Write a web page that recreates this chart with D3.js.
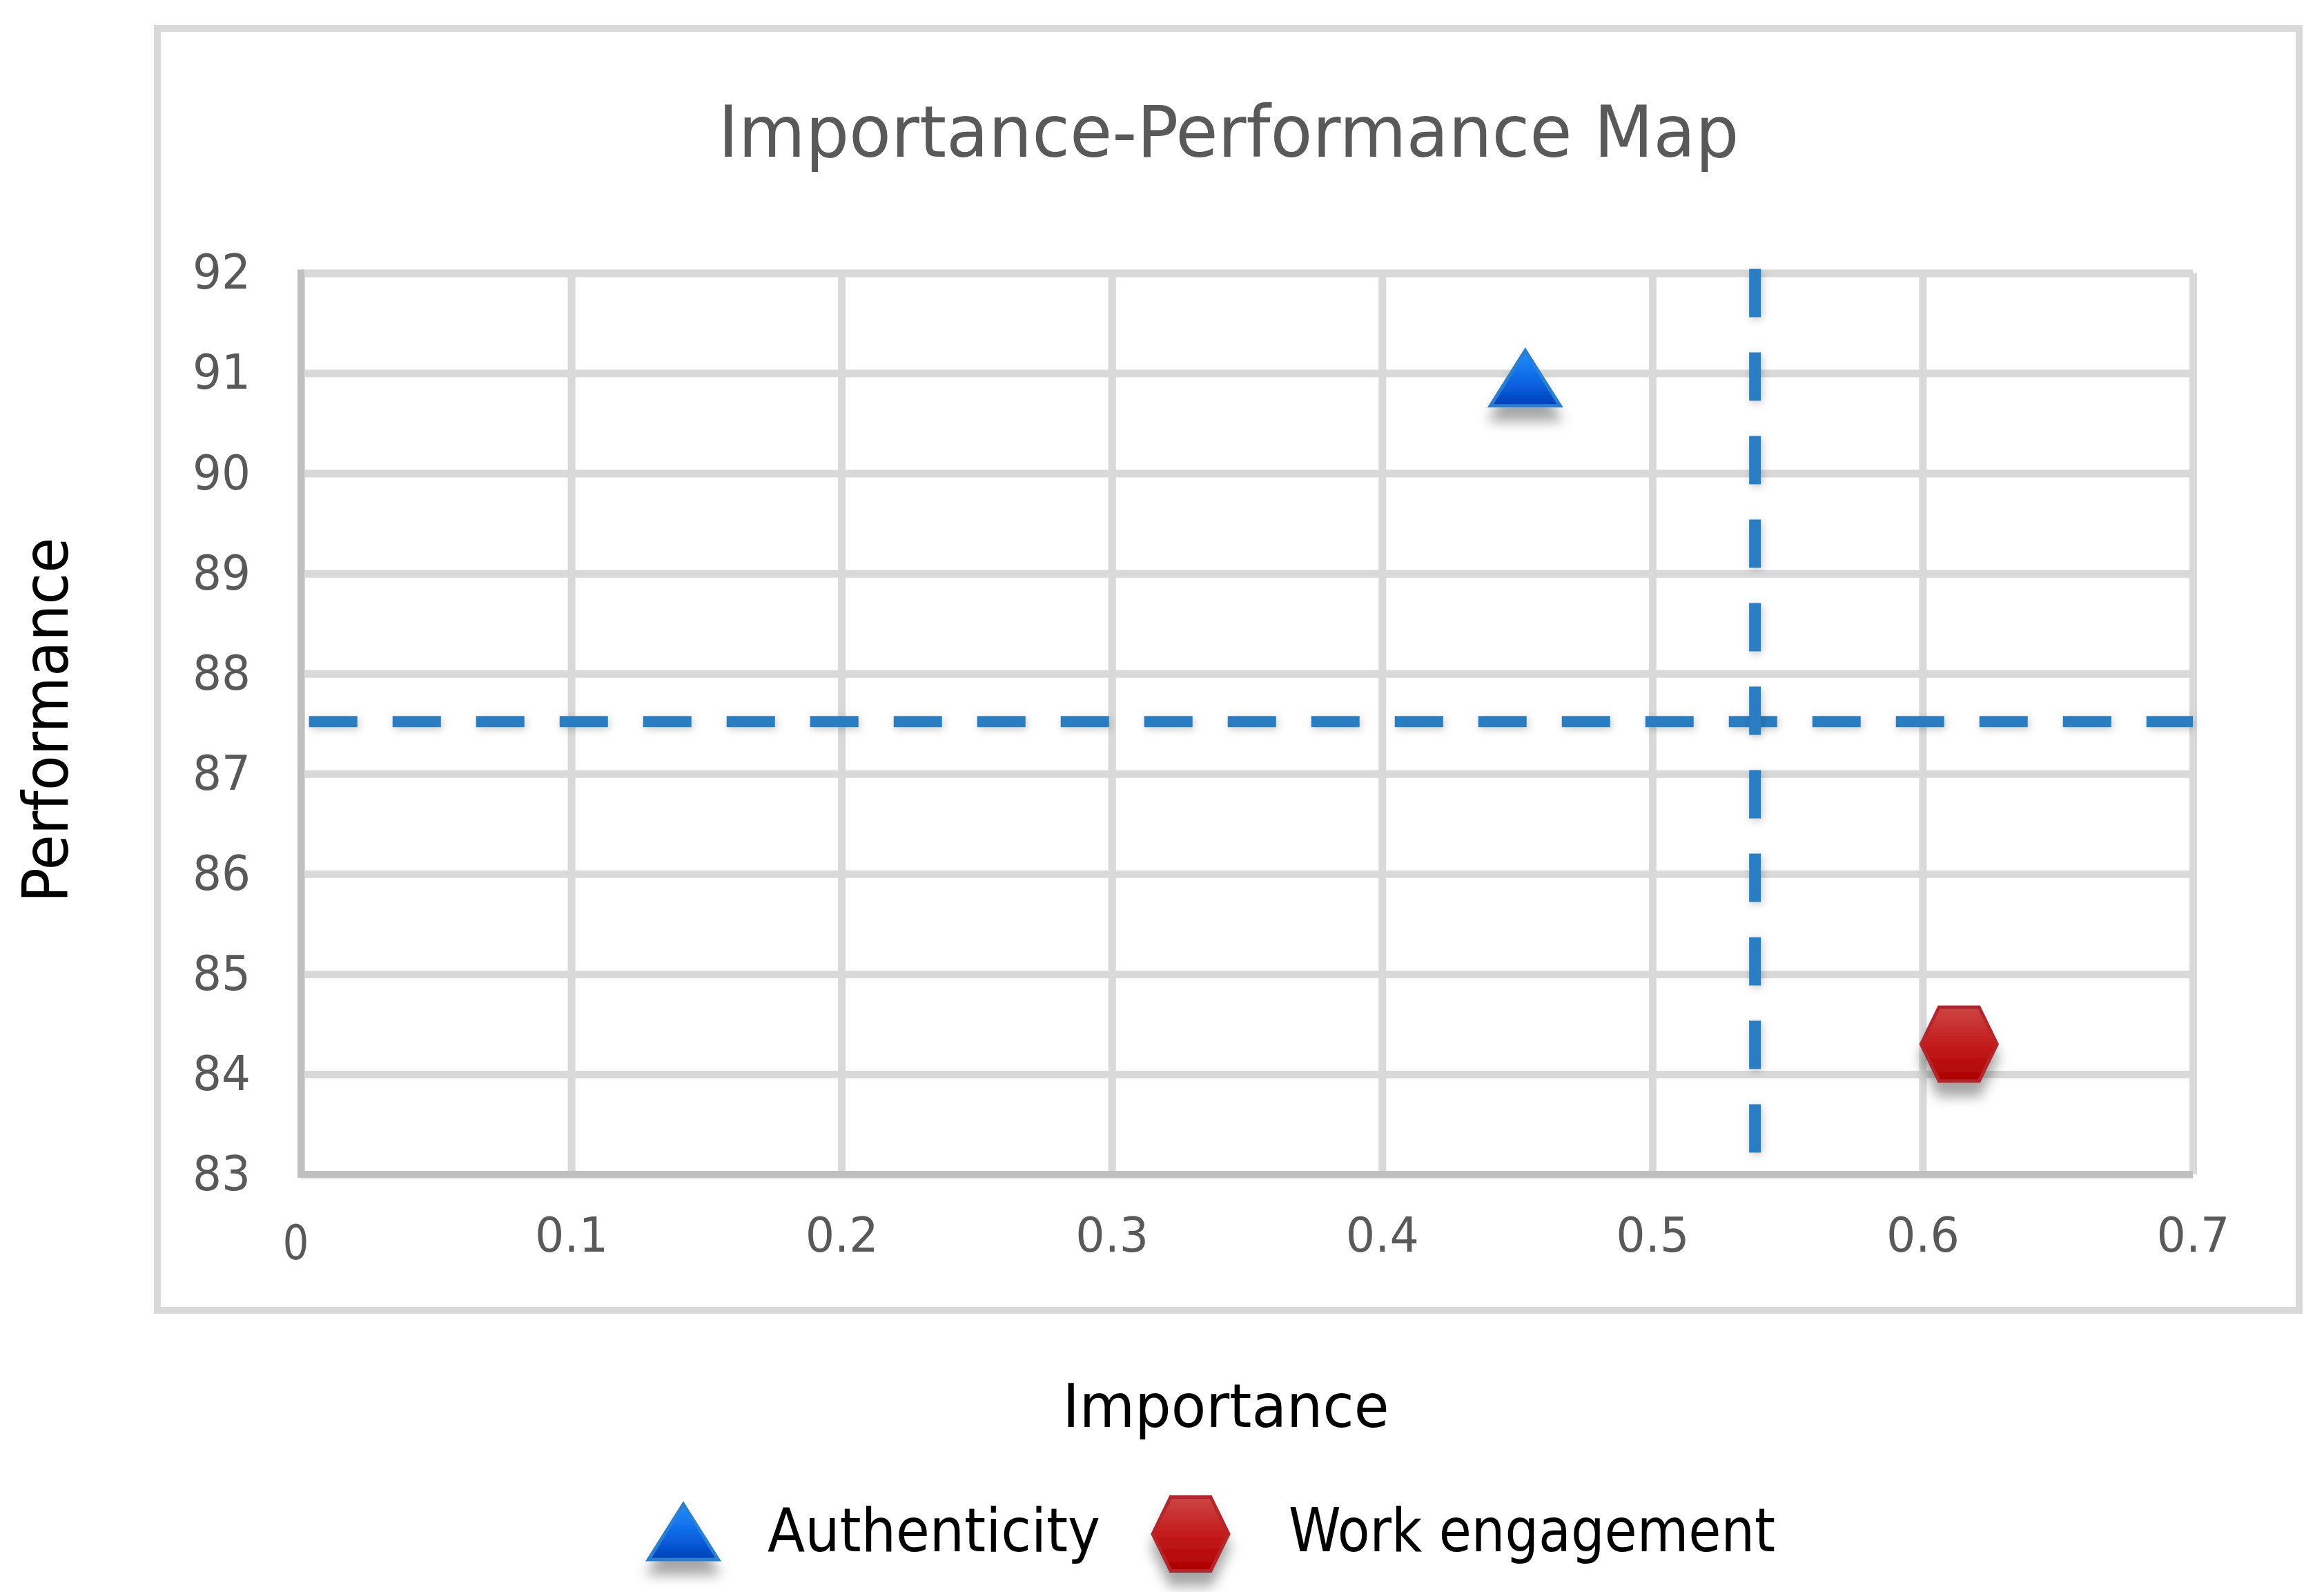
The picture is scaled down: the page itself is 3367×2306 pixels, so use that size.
<!DOCTYPE html>
<html>
<head>
<meta charset="utf-8">
<script src="https://cdn.jsdelivr.net/npm/d3@7"></script>
<style>
  html, body { margin: 0; padding: 0; background: #ffffff; }
  svg { display: block; }
  text { font-family: "Liberation Sans Narrow", "DejaVu Sans Condensed", "Liberation Sans", sans-serif; }
</style>
</head>
<body>
<svg id="chart" width="3367" height="2306"></svg>
<script>
// ---------------- data ----------------
const seriesNames   = ["Authenticity", "Work engagement"];
const importance    = [0.453, 0.6135];
const performance   = [90.95, 84.30];
const markerShapes  = ["triangle", "hexagon"];
const xTickValues   = [0, 0.1, 0.2, 0.3, 0.4, 0.5, 0.6, 0.7];
const yTickValues   = [83, 84, 85, 86, 87, 88, 89, 90, 91, 92];
const refImportance  = 0.538;   // vertical dashed line
const refPerformance = 87.52;   // horizontal dashed line
const hLineImportance = [0.003, 0.7];
const vLinePerformance = [92, 83];
const titleText = "Importance-Performance Map";
const xTitle = "Importance";
const yTitle = "Performance";

// ---------------- layout ----------------
const W = 3367, H = 2306;
const plot = { left: 436, right: 3177, top: 395.5, bottom: 1701 };
const svg = d3.select("#chart");

const x = d3.scaleLinear().domain([0, 0.7]).range([plot.left, plot.right]);
const y = d3.scaleLinear().domain([83, 92]).range([plot.bottom, plot.top]);

const defs = svg.append("defs");
// gradients
const gTri = defs.append("linearGradient").attr("id", "gTri").attr("x1", 0).attr("y1", 0).attr("x2", 0).attr("y2", 1);
gTri.append("stop").attr("offset", "0%").attr("stop-color", "#1f8fff");
gTri.append("stop").attr("offset", "60%").attr("stop-color", "#0a62e0");
gTri.append("stop").attr("offset", "100%").attr("stop-color", "#0040b8");
const gHex = defs.append("linearGradient").attr("id", "gHex").attr("x1", 0).attr("y1", 0).attr("x2", 0).attr("y2", 1);
gHex.append("stop").attr("offset", "0%").attr("stop-color", "#cd4545");
gHex.append("stop").attr("offset", "50%").attr("stop-color", "#c41c1c");
gHex.append("stop").attr("offset", "100%").attr("stop-color", "#ad0000");
// shadows
const fShadow = defs.append("filter").attr("id", "shadow").attr("x", "-50%").attr("y", "-50%").attr("width", "200%").attr("height", "220%");
fShadow.append("feDropShadow").attr("dx", 0).attr("dy", 20).attr("stdDeviation", 9)
  .attr("flood-color", "#000").attr("flood-opacity", 0.35);
const fLine = defs.append("filter").attr("id", "lshadow").attr("filterUnits", "userSpaceOnUse")
  .attr("x", 0).attr("y", 0).attr("width", W).attr("height", H);
fLine.append("feDropShadow").attr("dx", 2).attr("dy", 3).attr("stdDeviation", 6)
  .attr("flood-color", "#000").attr("flood-opacity", 0.22);

// outer border
svg.append("rect").attr("x", 228).attr("y", 41).attr("width", 3331 - 228).attr("height", 1898 - 41)
  .attr("fill", "#ffffff").attr("stroke", "#d9d9d9").attr("stroke-width", 10);

// title
svg.append("text").attr("x", 1780).attr("y", 227).attr("text-anchor", "middle")
  .attr("font-size", 103).attr("fill", "#595959")
  .attr("textLength", 1479).attr("lengthAdjust", "spacingAndGlyphs")
  .text(titleText);

// gridlines (via axes)
const gridX = svg.append("g").attr("transform", `translate(0,${plot.bottom})`)
  .call(d3.axisBottom(x).tickValues(xTickValues).tickSize(-(plot.bottom - plot.top)).tickFormat(""));
gridX.select(".domain").remove();
gridX.selectAll("line").attr("stroke", "#d9d9d9").attr("stroke-width", 11);

const gridY = svg.append("g").attr("transform", `translate(${plot.left},0)`)
  .call(d3.axisLeft(y).tickValues(yTickValues).tickSize(-(plot.right - plot.left)).tickFormat(""));
gridY.select(".domain").remove();
gridY.selectAll("line").attr("stroke", "#d9d9d9").attr("stroke-width", 11);

// axis lines
svg.append("line").attr("x1", x(0)).attr("x2", x(0)).attr("y1", y(92) - 5).attr("y2", y(83) + 5)
  .attr("stroke", "#bfbfbf").attr("stroke-width", 10);
svg.append("line").attr("x1", x(0) - 5).attr("x2", x(0.7)).attr("y1", y(83)).attr("y2", y(83))
  .attr("stroke", "#bfbfbf").attr("stroke-width", 10);

// tick labels (via axes)
const yAxis = svg.append("g").attr("transform", `translate(${plot.left},0)`)
  .call(d3.axisLeft(y).tickValues(yTickValues).tickSize(0).tickPadding(73).tickFormat(d3.format("d")));
yAxis.select(".domain").remove();
yAxis.selectAll("text").attr("font-size", 70).attr("fill", "#595959")
  .attr("font-family", "Liberation Sans Narrow, DejaVu Sans Condensed, sans-serif")
  .attr("dy", "0.32em").attr("textLength", 84).attr("lengthAdjust", "spacingAndGlyphs");

const xAxis = svg.append("g").attr("transform", `translate(0,${plot.bottom})`)
  .call(d3.axisBottom(x).tickValues(xTickValues).tickSize(0).tickPadding(62)
    .tickFormat(d => d === 0 ? "0" : d3.format(".1f")(d)));
xAxis.select(".domain").remove();
xAxis.selectAll("text").attr("font-size", 70).attr("fill", "#595959")
  .attr("font-family", "Liberation Sans Narrow, DejaVu Sans Condensed, sans-serif")
  .each(function(d) {
    const t = d3.select(this);
    if (d === 0) {
      t.attr("dx", -8).attr("dy", "0.87em").attr("textLength", 38).attr("lengthAdjust", "spacingAndGlyphs");
    } else {
      t.attr("textLength", 106).attr("lengthAdjust", "spacingAndGlyphs");
    }
  });

// reference dashed lines
svg.append("line")
  .attr("x1", x(hLineImportance[0])).attr("x2", x(hLineImportance[1]))
  .attr("y1", y(refPerformance)).attr("y2", y(refPerformance))
  .attr("stroke", "#2a7dc1").attr("stroke-width", 16).attr("stroke-dasharray", "70,51")
  .attr("filter", "url(#lshadow)");
svg.append("line")
  .attr("x1", x(refImportance)).attr("x2", x(refImportance))
  .attr("y1", y(vLinePerformance[0]) - 6).attr("y2", y(vLinePerformance[1]))
  .attr("stroke", "#2a7dc1").attr("stroke-width", 17).attr("stroke-dasharray", "70,51")
  .attr("filter", "url(#lshadow)");

// marker paths
function markerPath(shape, cx, cy) {
  if (shape === "triangle") {
    const w = 101, h = 80;
    return `M${cx},${cy - h / 2} L${cx + w / 2},${cy + h / 2} L${cx - w / 2},${cy + h / 2} Z`;
  }
  const w = 110, h = 107, tw = 58;
  return `M${cx - tw / 2},${cy - h / 2} L${cx + tw / 2},${cy - h / 2} L${cx + w / 2},${cy} ` +
         `L${cx + tw / 2},${cy + h / 2} L${cx - tw / 2},${cy + h / 2} L${cx - w / 2},${cy} Z`;
}
const fills = { triangle: "url(#gTri)", hexagon: "url(#gHex)" };
const strokes = { triangle: "#2b7fd0", hexagon: "#b3282d" };

const pts = seriesNames.map((n, i) => ({ name: n, imp: importance[i], perf: performance[i], shape: markerShapes[i] }));
svg.append("g").selectAll("path").data(pts).join("path")
  .attr("d", d => markerPath(d.shape, x(d.imp), y(d.perf)))
  .attr("fill", d => fills[d.shape]).attr("stroke", d => strokes[d.shape]).attr("stroke-width", 5)
  .attr("filter", "url(#shadow)");

// axis titles
svg.append("text").attr("x", 1776).attr("y", 2067).attr("text-anchor", "middle")
  .attr("font-size", 87).attr("fill", "#000")
  .attr("textLength", 473).attr("lengthAdjust", "spacingAndGlyphs").text(xTitle);
svg.append("text").attr("transform", "translate(98,1043) rotate(-90)").attr("text-anchor", "middle")
  .attr("font-size", 90).attr("fill", "#000")
  .attr("textLength", 529).attr("lengthAdjust", "spacingAndGlyphs").text(yTitle);

// legend
const legendItems = [
  { shape: "triangle", cx: 990, cy: 2219, tx: 1112, tl: 482 },
  { shape: "hexagon", cx: 1725, cy: 2222, tx: 1867, tl: 705 }
];
const lg = svg.append("g");
legendItems.forEach((it, i) => {
  lg.append("path").attr("d", markerPath(it.shape, it.cx, it.cy))
    .attr("fill", fills[it.shape]).attr("stroke", strokes[it.shape]).attr("stroke-width", 5)
    .attr("filter", "url(#shadow)");
  lg.append("text").attr("x", it.tx).attr("y", 2247).attr("font-size", 87).attr("fill", "#000")
    .attr("textLength", it.tl).attr("lengthAdjust", "spacingAndGlyphs").text(seriesNames[i]);
});
</script>
</body>
</html>
